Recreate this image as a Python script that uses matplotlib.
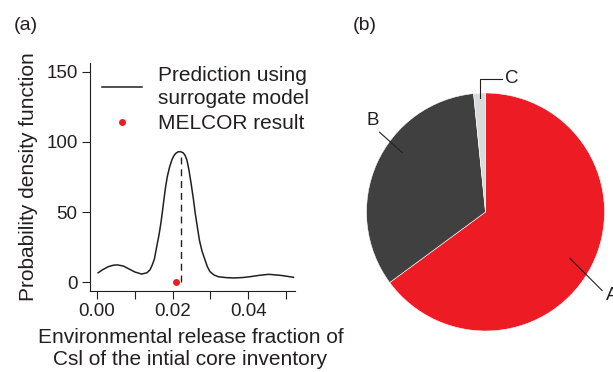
import matplotlib
matplotlib.use("Agg")
import matplotlib.pyplot as plt

plt.rcParams["font.family"] = ["Liberation Sans", "DejaVu Sans"]

INK = "#231f20"

# (a) surrogate-model pdf
release_frac = [0.0003, 0.0015, 0.003, 0.0045, 0.0055, 0.007, 0.0085, 0.010,
                0.0118, 0.0132, 0.0140, 0.0146, 0.0152, 0.0158, 0.0164, 0.0169,
                0.0173, 0.0177, 0.0181, 0.0186, 0.0192, 0.0198, 0.0203, 0.0208,
                0.0215, 0.0221, 0.0228, 0.0233, 0.0238, 0.0243, 0.0249, 0.0255,
                0.0260, 0.0266, 0.0271, 0.0278, 0.0286, 0.0292, 0.0299, 0.0310,
                0.0321, 0.034, 0.0361, 0.0385, 0.0405, 0.043, 0.0454, 0.0485,
                0.0520]
pdf_values = [6.6, 8.8, 11.0, 12.1, 12.2, 11.4, 9.3, 7.2,
              5.7, 6.6, 8.6, 12.0, 16.5, 25.2, 33.5, 41.9,
              50.0, 58.6, 67.0, 75.2, 82.0, 87.1, 90.0, 91.8,
              93.0, 93.1, 92.3, 90.5, 87.1, 80.5, 70.5, 59.5,
              49.1, 38.5, 30.0, 22.0, 15.7, 11.0, 7.4, 5.0,
              3.8, 3.2, 2.9, 3.2, 3.8, 4.8, 5.5, 4.8,
              3.4]
peak_x = 0.0221
peak_y = 93.1
melcor_x = 0.0209
melcor_y = 0.0

x_ticks = [0.00, 0.02, 0.04]
x_minor = [0.01, 0.03, 0.05]
y_ticks = [0, 50, 100, 150]

# (b) pie shares
pie_labels = ["A", "B", "C"]
pie_shares = [0.649, 0.335, 0.016]
pie_colors = ["#ed1c24", "#404040", "#d9dadc"]

fig = plt.figure(figsize=(6.13, 3.72), dpi=100)

# ---- panel (a)
ax = fig.add_axes([90 / 613, (372 - 291) / 372, 205 / 613, 228 / 372])
ax.plot(release_frac, pdf_values, color=INK, lw=1.1, solid_joinstyle="round",
        label="Prediction using\nsurrogate model")
ax.plot([peak_x, peak_x], [0, peak_y], color=INK, lw=1.0, ls=(0, (5, 3.5)))
ax.plot([melcor_x], [melcor_y], "o", color="#ed1c24", ms=5, mec="none",
        label="MELCOR result", clip_on=False)

ax.set_xlim(-0.00185, 0.0524)
ax.set_ylim(-6.4, 156.4)
ax.set_xticks(x_ticks)
ax.set_xticklabels([f"{v:.2f}" for v in x_ticks])
ax.set_xticks(x_minor, minor=True)
ax.set_yticks(y_ticks)
for s in ["top", "right"]:
    ax.spines[s].set_visible(False)
for s in ["left", "bottom"]:
    ax.spines[s].set_linewidth(0.8)
    ax.spines[s].set_color(INK)
ax.tick_params(which="both", direction="out", length=6, width=0.8,
               color=INK, labelcolor=INK, labelsize=13.5, pad=3)

ax.set_ylabel("Probability density function", fontsize=15, color=INK)
ax.yaxis.set_label_coords(-0.255, 0.5)
ax.set_xlabel("Environmental release fraction of\nCsl of the intial core inventory",
              fontsize=15, color=INK, linespacing=1.2)
ax.xaxis.set_label_coords(0.49, -0.163)

leg = ax.legend(loc="upper left", bbox_to_anchor=(0.02, 1.025), frameon=False,
                fontsize=15, handlelength=1.9, handletextpad=0.77,
                labelspacing=0.3, borderaxespad=0, labelcolor=INK)
leg.get_texts()[0].set_linespacing(1.3)

fig.text(14 / 613, 1 - 25 / 372, "(a)", fontsize=14, color=INK,
         ha="left", va="center")

# ---- panel (b)
ax2 = fig.add_axes([366 / 613, (372 - 331) / 372, 239 / 613, 238 / 372])
ax2.pie(pie_shares, colors=pie_colors, startangle=90, counterclock=False,
        radius=1, wedgeprops=dict(edgecolor="white", linewidth=0.4))
ax2.set_xlim(-1, 1)
ax2.set_ylim(-1, 1)
ax2.set_aspect("equal")
ax2.axis("off")

lead = dict(color=INK, lw=0.8, clip_on=False)
ax2.plot([0.71, 0.98], [-0.39, -0.66], **lead)
ax2.text(1.01, -0.70, pie_labels[0], fontsize=13.5, color=INK,
         ha="left", va="center", clip_on=False)
ax2.plot([-0.70, -0.89], [0.50, 0.67], **lead)
ax2.text(-0.95, 0.77, pie_labels[1], fontsize=13.5, color=INK,
         ha="center", va="center")
ax2.plot([-0.05, -0.05, 0.14], [0.96, 1.12, 1.12], **lead)
ax2.text(0.16, 1.12, pie_labels[2], fontsize=13.5, color=INK,
         ha="left", va="center", clip_on=False)

fig.text(353 / 613, 1 - 25 / 372, "(b)", fontsize=14, color=INK,
         ha="left", va="center")

fig.savefig("out.png", dpi=100)
